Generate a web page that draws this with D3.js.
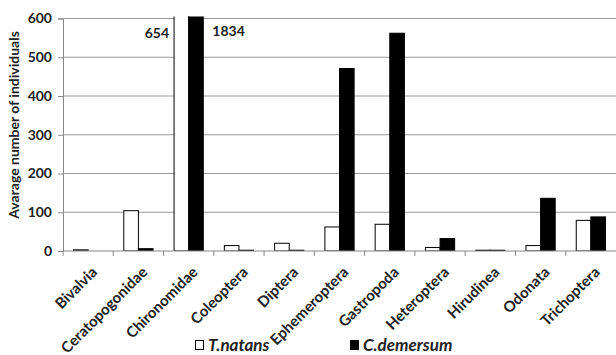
<!DOCTYPE html>
<html>
<head>
<meta charset="utf-8">
<script src="https://cdn.jsdelivr.net/npm/d3@7"></script>
<style>
	body { margin: 0; background: #fff; }
	svg { display: block; font-family: Lato, 'Open Sans', sans-serif; }
</style>
</head>
<body>
<svg id="chart" width="616" height="355"></svg>
<script>
'use strict'

const categories = ['Bivalvia', 'Ceratopogonidae', 'Chironomidae', 'Coleoptera', 'Diptera',
	'Ephemeroptera', 'Gastropoda', 'Heteroptera', 'Hirudinea', 'Odonata', 'Trichoptera']
const seriesNames = ['T.natans', 'C.demersum']
const tNatans = [3, 104, 654, 14, 20, 62, 69, 9, 2, 14, 79]
const cDemersum = [0, 6, 1834, 2, 2, 471, 562, 32, 2, 136, 88]
const yTicks = [0, 100, 200, 300, 400, 500, 600]

const svg = d3.select('#chart')
const plotLeft = 63, plotRight = 616, plotTop = 18.5, plotBottom = 251

const x = d3.scaleBand().domain(categories).range([plotLeft, plotRight])
const xSub = d3.scaleBand().domain(seriesNames).range([0, x.bandwidth()])
	.paddingInner(0).paddingOuter(0.72)
const y = d3.scaleLinear().domain([0, 600]).range([plotBottom, plotTop])

// gridlines
svg.append('g').selectAll('line').data(yTicks.slice(1)).join('line')
	.attr('x1', plotLeft).attr('x2', plotRight)
	.attr('y1', d => y(d)).attr('y2', d => y(d))
	.attr('stroke', '#999').attr('stroke-width', 1.2)

svg.append('clipPath').attr('id', 'plotClip')
	.append('rect').attr('x', plotLeft).attr('y', plotTop - 2)
	.attr('width', plotRight - plotLeft).attr('height', plotBottom - plotTop + 2)

function drawSeries(values, name, fill) {
	svg.append('g').attr('clip-path', 'url(#plotClip)')
		.selectAll('rect').data(values).join('rect')
		.attr('x', (d, i) => x(categories[i]) + xSub(name))
		.attr('y', d => y(d))
		.attr('width', xSub.bandwidth())
		.attr('height', d => plotBottom - y(d))
		.attr('fill', fill)
		.attr('stroke', '#000').attr('stroke-width', 1)
}
drawSeries(tNatans, 'T.natans', '#fff')
drawSeries(cDemersum, 'C.demersum', '#000')

// values beyond the axis range
const chiro = categories.indexOf('Chironomidae')
svg.append('text')
	.attr('x', x(categories[chiro]) + xSub('T.natans') - 5).attr('y', 38)
	.attr('text-anchor', 'end').attr('font-size', 14).attr('font-weight', 'bold')
	.attr('fill', '#222').text(tNatans[chiro])
svg.append('text')
	.attr('x', x(categories[chiro]) + xSub('C.demersum') + xSub.bandwidth() + 9).attr('y', 36)
	.attr('font-size', 14).attr('font-weight', 'bold')
	.attr('fill', '#222').text(cDemersum[chiro])

// y axis
const yAxis = svg.append('g').attr('transform', 'translate(' + plotLeft + ',0)')
	.call(d3.axisLeft(y).tickValues(yTicks).tickSize(5).tickPadding(6))
yAxis.select('.domain').attr('stroke', '#888')
yAxis.selectAll('.tick line').attr('stroke', '#888')
yAxis.selectAll('.tick text').attr('font-size', 14).attr('font-weight', 'bold')
	.attr('fill', '#222').attr('font-family', 'Lato, sans-serif')

// x axis
const xAxis = svg.append('g').attr('transform', 'translate(0,' + plotBottom + ')')
xAxis.append('line').attr('x1', plotLeft).attr('x2', plotRight)
	.attr('stroke', '#888').attr('stroke-width', 1.2)
xAxis.selectAll('line.tick').data(categories).join('line').attr('class', 'tick')
	.attr('x1', d => x(d)).attr('x2', d => x(d))
	.attr('y1', 0).attr('y2', 5).attr('stroke', '#888')
xAxis.selectAll('text').data(categories).join('text')
	.attr('transform', d => 'translate(' + (x(d) + x.bandwidth() / 2 + 10) + ',' + 22 + ') rotate(-45)')
	.attr('text-anchor', 'end')
	.attr('font-size', 15).attr('font-weight', 'bold').attr('fill', '#222')
	.text(d => d)

// y title
svg.append('text')
	.attr('transform', 'translate(19,125) rotate(-90)')
	.attr('text-anchor', 'middle')
	.attr('font-size', 14).attr('font-weight', 'bold').attr('fill', '#222')
	.text('Avarage number of individuals')

// legend
const legendX = [195, 350]
const legend = svg.append('g').selectAll('g').data(seriesNames).join('g')
	.attr('transform', (d, i) => 'translate(' + legendX[i] + ',340)')
legend.append('rect').attr('x', 0.5).attr('y', 0.5).attr('width', 8).attr('height', 9)
	.attr('fill', (d, i) => i === 0 ? '#fff' : '#000').attr('stroke', '#000')
legend.append('text').attr('x', 13).attr('y', 10.5)
	.attr('font-size', 17).attr('font-style', 'italic').attr('font-weight', 'bold')
	.attr('fill', '#222').text(d => d)
</script>
</body>
</html>
